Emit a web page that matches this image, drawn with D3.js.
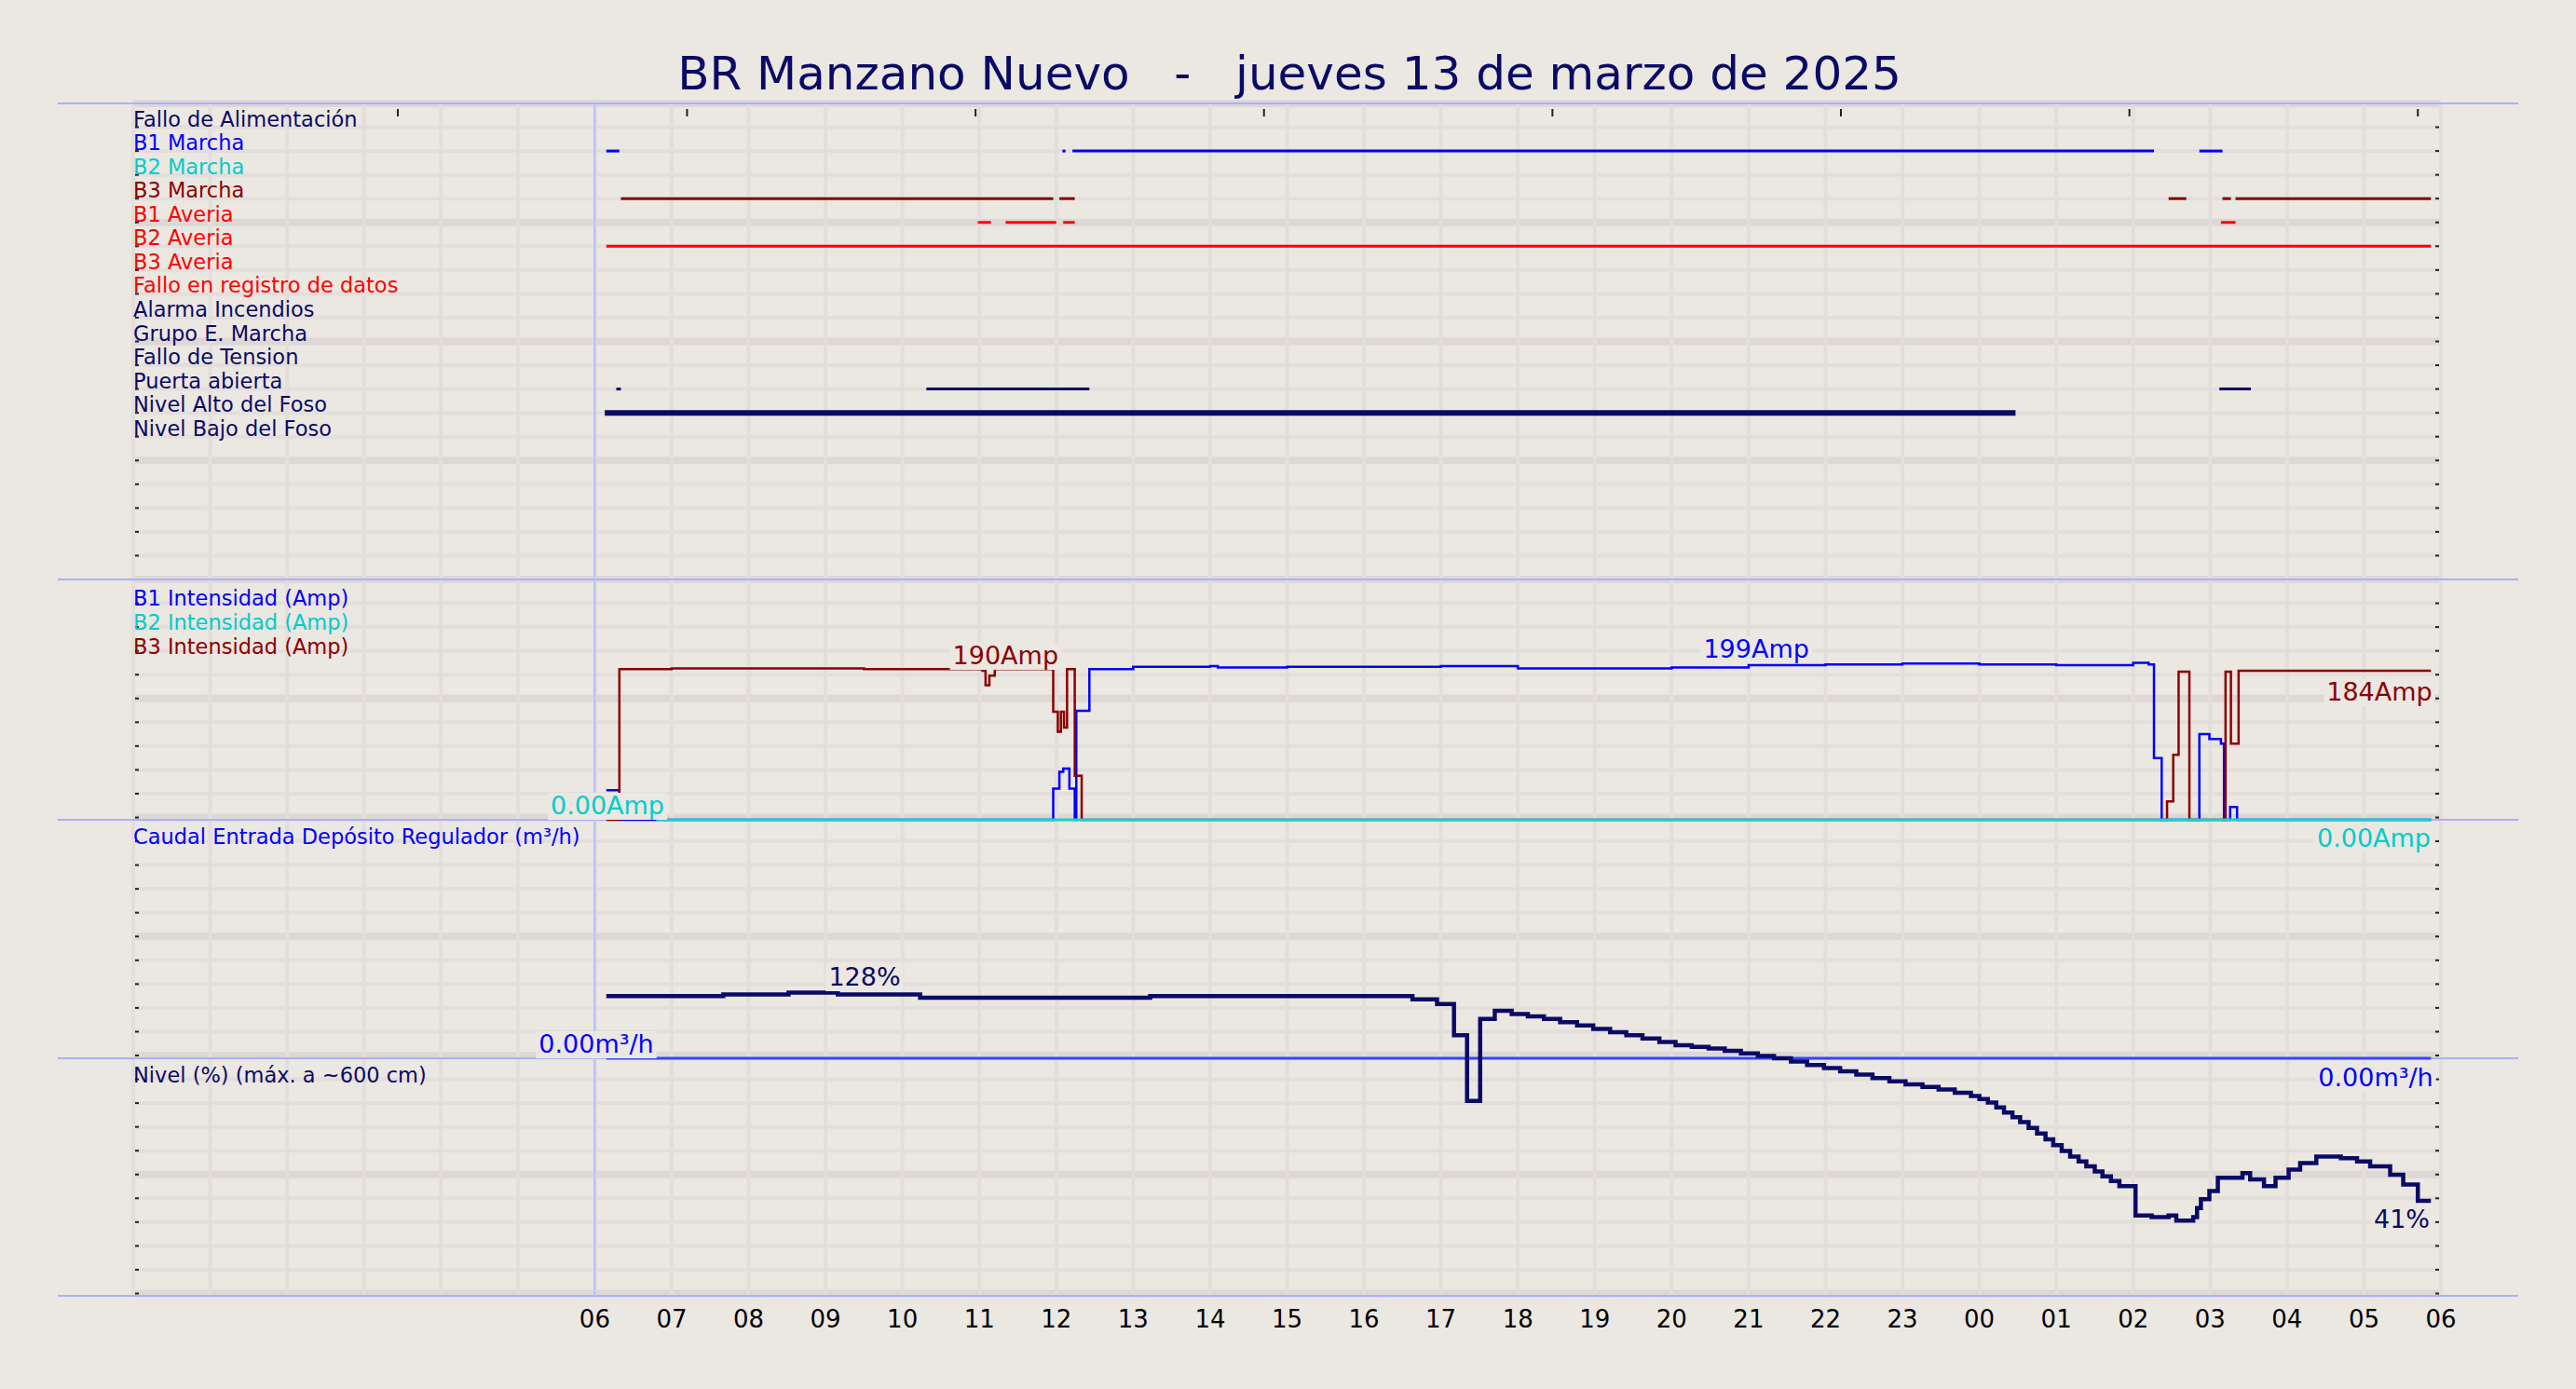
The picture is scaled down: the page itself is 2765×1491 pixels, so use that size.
<!DOCTYPE html>
<html><head><meta charset="utf-8">
<script src="https://cdn.jsdelivr.net/npm/d3@7"></script>
<style>body{margin:0;background:#ebe7e1}svg{display:block}text{font-family:"DejaVu Sans",sans-serif}</style>
</head><body><div id="chart"></div>
<script>
// etiquetas de las señales digitales
var senales = ["Fallo de Alimentación","B1 Marcha","B2 Marcha","B3 Marcha","B1 Averia","B2 Averia","B3 Averia",
  "Fallo en registro de datos","Alarma Incendios","Grupo E. Marcha","Fallo de Tension","Puerta abierta",
  "Nivel Alto del Foso","Nivel Bajo del Foso"];
var coloresSenal = ["#0a0a66","#0000ff","#00cccc","#8b0000","#ff0000","#ff0000","#ff0000","#ff0000",
  "#0a0a66","#0a0a66","#0a0a66","#0a0a66","#0a0a66","#0a0a66"];
// tramos activos [inicio, fin] en horas desde 00:00 del día 13
var tramos = [
  [], [[6.15,6.32],[12.08,12.12],[12.21,26.27],[26.86,27.16]], [],
  [[6.34,11.96],[12.04,12.24],[26.46,26.69],[27.16,27.27],[27.33,29.87]],
  [[10.98,11.15],[11.34,12.0],[12.09,12.24],[27.14,27.33]],
  [[6.15,29.87]], [], [], [], [], [],
  [[6.28,6.34],[10.31,12.43],[27.12,27.53]],
  [[6.13,24.47]], []
];
// intensidades (Amp), escalonadas
var b1Intensidad = [[6.15,37],[6.32,0],[11.96,39],[12.04,60],[12.09,64],[12.17,39],[12.24,0],[12.26,136],[12.43,188],
  [13,191],[14,192],[14.1,190],[15,191],[17,192],[18,189],[20,190],[21,193],[22,194],[23,195],[24,194],[25,193],
  [26,196],[26.2,194],[26.27,77],[26.37,0],[26.86,107],[26.99,101],[27.14,95],[27.18,0],[27.26,16],[27.35,0],[29.87,0]];
var b2Intensidad = [[6.8,0],[29.87,0]];
var b3Intensidad = [[6.15,0],[6.32,188],[7,189],[9.5,188],[11.04,186],[11.08,168],[11.13,180],[11.2,188],[11.96,135],
  [12.02,110],[12.06,135],[12.1,115],[12.14,188],[12.24,55],[12.33,0],[26.44,23],[26.52,81],[26.59,185],[26.73,0],
  [27.2,185],[27.27,95],[27.37,186],[29.87,186]];
var caudal = [[6.15,0],[29.87,0]];
// nivel (%)
var nivel = [[6.15,126.2],[6.81,126.2],[7.67,126.9],[8.52,127.6],[9.16,126.9],[10.01,126.9],[10.23,125.5],[11.08,125.5],
  [13.22,126.2],[14.93,126.2],[16.31,126.2],[16.63,124.8],[16.95,122.8],[17.17,109.7],[17.34,82.1],[17.51,116.6],
  [17.7,120],[17.92,118.6],[18.13,117.6],[18.34,116.6],[18.55,115.2],[18.77,113.8],[18.98,112.4],[19.2,111],[19.41,109.7],
  [19.62,108.3],[19.84,106.9],[20.05,105.5],[20.26,104.8],[20.48,104.1],[20.69,103.1],[20.9,102.1],[21.12,101],
  [21.33,100],[21.55,98.6],[21.76,97.2],[21.98,95.9],[22.19,94.5],[22.4,93.1],[22.61,91.7],[22.83,90.3],[23.04,89],
  [23.26,87.9],[23.47,86.9],[23.68,85.5],[23.89,84.1],[24.0,82.8],[24.11,81.4],[24.22,79.3],
  [24.32,77.2],[24.43,75.2],[24.53,73.1],[24.64,70.7],[24.75,68.3],[24.86,65.9],[24.96,63.4],[25.07,61],[25.18,58.6],
  [25.29,56.6],[25.39,54.5],[25.5,52.4],[25.6,50.3],[25.71,48.3],[25.82,46.2],[26.03,33.8],
  [26.24,33.1],[26.46,33.8],[26.56,31.7],[26.78,33.1],[26.83,37],[26.88,40.7],[26.99,44.1],[27.1,49.7],[27.42,51.7],[27.52,49],
  [27.7,46.2],[27.85,49.7],[28.02,53.1],[28.17,55.9],[28.38,58.6],[28.7,57.9],[28.91,56.6],[29.08,54.5],[29.34,51],
  [29.51,46.9],[29.7,40],[29.87,40]];
var horas = d3.range(6,31);

var W = 2765, H = 1491;
var bg = "#ebe7e1";
var svg = d3.select("#chart").append("svg").attr("width",W).attr("height",H).style("background",bg);

var x = d3.scaleLinear().domain([0,30]).range([143,2620]);
var panelY = [111,622,880,1136,1391];
var rowH = (panelY[1]-panelY[0])/20;
var yAmp = d3.scaleLinear().domain([0,300]).range([880,622]);
var yCaudal = d3.scaleLinear().domain([0,100]).range([1136,880]);
var yNivel = d3.scaleLinear().domain([0,100]).range([1391,1136]);

// título
svg.append("text").attr("x",1384).attr("y",96).attr("text-anchor","middle")
  .attr("font-size",50).attr("fill","#0a0a66").attr("xml:space","preserve")
  .text("BR Manzano Nuevo   -   jueves 13 de marzo de 2025");

// rejilla
var g = svg.append("g");
var filas = d3.range(panelY[0], panelY[4]+1, rowH);
filas.forEach(function(yy,i){
  var fuerte = (i%5==0);
  g.append("line").attr("x1",143).attr("x2",2620).attr("y1",yy).attr("y2",yy)
    .attr("stroke", fuerte ? "#ddd7d6" : "#e3dedb").attr("stroke-width", fuerte ? 8 : 4);
  g.append("line").attr("x1",143).attr("x2",149).attr("y1",yy).attr("y2",yy).attr("stroke","#222").attr("stroke-width",2);
  g.append("line").attr("x1",2614).attr("x2",2620).attr("y1",yy).attr("y2",yy).attr("stroke","#222").attr("stroke-width",2);
});
d3.range(0,31).forEach(function(h){
  g.append("line").attr("x1",x(h)).attr("x2",x(h)).attr("y1",panelY[0]).attr("y2",panelY[4])
    .attr("stroke","#e3dedb").attr("stroke-width",4);
});
panelY.forEach(function(yy){
  g.append("line").attr("x1",62).attr("x2",2703).attr("y1",yy).attr("y2",yy).attr("stroke","#aab0ff").attr("stroke-width",2);
});
g.append("line").attr("x1",x(6)).attr("x2",x(6)).attr("y1",panelY[0]).attr("y2",panelY[4]).attr("stroke","#b8bcff").attr("stroke-width",2);
[3.44,7.2,10.95,14.7,18.45,22.2,25.95,29.7].forEach(function(h){
  g.append("line").attr("x1",x(h)).attr("x2",x(h)).attr("y1",117).attr("y2",125).attr("stroke","#222").attr("stroke-width",2);
});

// eje de horas
svg.append("g").selectAll("text").data(horas).enter().append("text")
  .attr("x",d=>x(d)).attr("y",1425).attr("text-anchor","middle").attr("font-size",26).attr("fill","#000")
  .text(d=>d3.format("02d")(d%24));

// señales digitales
senales.forEach(function(s,i){
  var yy = panelY[0] + rowH*(i+1);
  svg.append("text").attr("x",143).attr("y",yy-1).attr("font-size",22.5).attr("fill",coloresSenal[i]).text(s);
  tramos[i].forEach(function(t){
    svg.append("line").attr("x1",x(t[0])).attr("x2",x(t[1])).attr("y1",yy).attr("y2",yy)
      .attr("stroke",coloresSenal[i]).attr("stroke-width", i==12 ? 6 : 3);
  });
});

// etiquetas de paneles
function etiqueta(t,yy,c){ svg.append("text").attr("x",143).attr("y",yy).attr("font-size",22.5).attr("fill",c).text(t); }
etiqueta("B1 Intensidad (Amp)",650,"#0000ff");
etiqueta("B2 Intensidad (Amp)",676,"#00cccc");
etiqueta("B3 Intensidad (Amp)",702,"#8b0000");
etiqueta("Caudal Entrada Depósito Regulador (m³/h)",906,"#0000ff");
etiqueta("Nivel (%) (máx. a ~600 cm)",1162,"#0a0a66");

function linea(datos,y,c,w){
  svg.append("path").datum(datos).attr("fill","none").attr("stroke",c).attr("stroke-width",w)
    .attr("d",d3.line().x(d=>x(d[0])).y(d=>y(d[1])).curve(d3.curveStepAfter));
}
linea(caudal,yCaudal,"#3344ff",3);
linea(b1Intensidad,yAmp,"#0000ff",2.5);
linea(b3Intensidad,yAmp,"#8b0000",2.5);
linea(b2Intensidad,yAmp,"#22cccc",3);
linea(nivel,yNivel,"#0a0a66",4.5);

// valores destacados
function valor(t,cx,cy,c){
  var tx = svg.append("text").attr("x",cx).attr("y",cy).attr("text-anchor","middle").attr("font-size",27).attr("fill",c).text(t);
  var b = tx.node().getBBox();
  svg.insert("rect", function(){ return tx.node(); }).attr("x",b.x-3).attr("y",b.y+2).attr("width",b.width+6).attr("height",b.height-2).attr("fill",bg);
}
valor("190Amp",x(11.34),713,"#8b0000");
valor("199Amp",x(21.1),706,"#0000ff");
valor("184Amp",x(29.2),752,"#8b0000");
valor("0.00Amp",652,874,"#00cccc");
valor("0.00Amp",2548,909,"#00cccc");
valor("128%",928,1058,"#0a0a66");
valor("41%",2578,1318,"#0a0a66");
valor("0.00m³/h",640,1130,"#0000ff");
valor("0.00m³/h",2550,1166,"#0000ff");
</script></body></html>
